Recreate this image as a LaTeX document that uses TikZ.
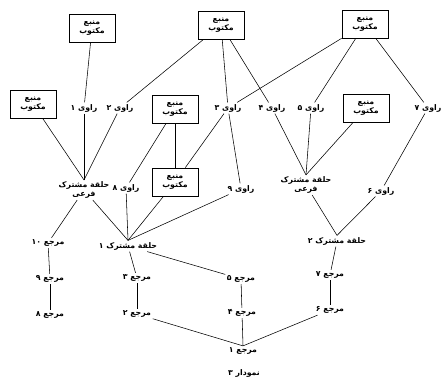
\documentclass[tikz,border=0pt]{standalone}
\usepackage{fontspec}
\usepackage{tikz}
\newfontfamily\arabicfont[Script=Arabic]{DejaVu Sans}
\TeXXeTstate=1
\newcommand{\fa}[1]{\beginR #1\endR}

\begin{document}
\begin{tikzpicture}
                [x=1pt, y=-1pt,
                 src/.style = {draw, line width=0.8pt, minimum width=46pt, minimum height=28pt, inner sep=1pt, align=center, font=\arabicfont\bfseries\fontsize{7.8}{9.5}\selectfont},
                 lbl/.style = {inner sep=1.5pt, align=center, font=\arabicfont\bfseries\fontsize{7.8}{9}\selectfont},
                 every edge/.style = {draw, line width=0.55pt}]
                \useasboundingbox (0,0) rectangle (443,382);
                % Written sources
                \node[src] (m1) at (92,28) {\fa{منبع}\\\fa{مکتوب}};
                \node[src] (m2) at (221,25) {\fa{منبع}\\\fa{مکتوب}};
                \node[src] (m3) at (365,24) {\fa{منبع}\\\fa{مکتوب}};
                \node[src] (m4) at (33,104) {\fa{منبع}\\\fa{مکتوب}};
                \node[src] (m5) at (175,109) {\fa{منبع}\\\fa{مکتوب}};
                \node[src] (m6) at (366,108) {\fa{منبع}\\\fa{مکتوب}};
                \node[src] (m7) at (175,182) {\fa{منبع}\\\fa{مکتوب}};
                % Narrators
                \node[lbl] (r1) at (84,108) {\fa{راوی ۱}};
                \node[lbl] (r2) at (120,108) {\fa{راوی ۲}};
                \node[lbl] (r3) at (228,108) {\fa{راوی ۳}};
                \node[lbl] (r4) at (272,108) {\fa{راوی ۴}};
                \node[lbl] (r5) at (311,108) {\fa{راوی ۵}};
                \node[lbl] (r7) at (428,108) {\fa{راوی ۷}};
                \node[lbl] (r8) at (126,188) {\fa{راوی ۸}};
                \node[lbl] (r9) at (241,189) {\fa{راوی ۹}};
                \node[lbl] (r6) at (381,191) {\fa{راوی ۶}};
                % Common links
                \node[lbl] (f1) at (84,190) {\fa{حلقة مشترک}\\\fa{فرعی}};
                \node[lbl] (f2) at (306,185) {\fa{حلقة مشترک}\\\fa{فرعی}};
                \node[lbl] (h1) at (128,246) {\fa{حلقة مشترک ۱}};
                \node[lbl] (h2) at (337,241) {\fa{حلقة مشترک ۲}};
                % References
                \node[lbl] (k10) at (48,243) {\fa{مرجع \beginL۱۰\endL}};
                \node[lbl] (k9) at (50,279) {\fa{مرجع ۹}};
                \node[lbl] (k8) at (50,315) {\fa{مرجع ۸}};
                \node[lbl] (k3) at (137,278) {\fa{مرجع ۳}};
                \node[lbl] (k2) at (137,314) {\fa{مرجع ۲}};
                \node[lbl] (k5) at (241,279) {\fa{مرجع ۵}};
                \node[lbl] (k4) at (242,313) {\fa{مرجع ۴}};
                \node[lbl] (k1) at (243,351) {\fa{مرجع ۱}};
                \node[lbl] (k7) at (330,275) {\fa{مرجع ۷}};
                \node[lbl] (k6) at (330,310) {\fa{مرجع ۶}};
                % Caption
                \node[lbl] (cap) at (244,373) {\fa{نمودار ۳}};
                % Lines from the sources
                \path[-] (m1) edge (r1);
                \path[-] (m2) edge (r2);
                \path[-] (m2) edge (r3);
                \path[-] (m2) edge (r4);
                \path[-] (m3) edge (r3);
                \path[-] (m3) edge (r5);
                \path[-] (m3) edge (r7);
                \path[-] (m5) edge (r8);
                \path[-] (m5) edge (m7);
                \path[-] (r3) edge (m7);
                \path[-] (r3) edge (r9);
                \path[-] (r7) edge (r6);
                % Lines into the common links
                \path[-] (m4) edge (f1.north);
                \path[-] (r1) edge (f1.north);
                \path[-] (r2) edge (f1.north);
                \path[-] (r4) edge (f2.north);
                \path[-] (r5) edge (f2.north);
                \path[-] (m6) edge (f2.north);
                \path[-] (f1) edge (h1.north);
                \path[-] (r8) edge (h1.north);
                \path[-] (m7) edge (h1.north);
                \path[-] (r9) edge (h1.north);
                \path[-] (f2) edge (h2.north);
                \path[-] (r6) edge (h2.north);
                % Lines to the references
                \path[-] (f1) edge (k10);
                \path[-] (k10) edge (k9);
                \path[-] (k9) edge (k8);
                \path[-] (h1) edge (k3);
                \path[-] (k3) edge (k2);
                \path[-] (h1) edge (k5);
                \path[-] (k5) edge (k4);
                \path[-] (k4) edge (k1.north);
                \path[-] (k2) edge (k1.north);
                \path[-] (h2) edge (k7);
                \path[-] (k7) edge (k6);
                \path[-] (k6) edge (k1.north);
            \end{tikzpicture}
\end{document}
